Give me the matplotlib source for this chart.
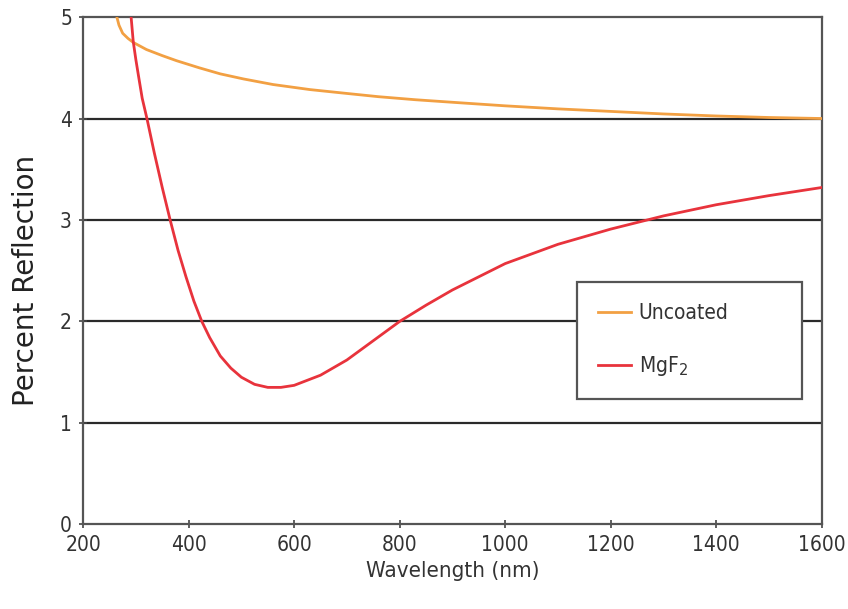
import matplotlib
matplotlib.use("Agg")
from matplotlib import pyplot as plt
from matplotlib import font_manager as fm

# values
uncoated_nm = [264, 268, 275, 285, 295, 320, 350, 377, 420, 460, 504, 560,
               630, 700, 760, 830, 900, 1000, 1100, 1200, 1300, 1400, 1500,
               1600]
uncoated_pct = [5.0, 4.92, 4.84, 4.79, 4.75, 4.68, 4.62, 4.57, 4.5, 4.44,
                4.39, 4.335, 4.285, 4.247, 4.215, 4.185, 4.16, 4.125, 4.095,
                4.07, 4.045, 4.025, 4.01, 4.0]

mgf2_nm = [291, 293, 295, 300, 305, 312, 321, 335, 350, 365, 380, 395, 410,
           425, 440, 460, 480, 500, 525, 550, 575, 600, 650, 700, 750, 800,
           850, 900, 1000, 1100, 1200, 1300, 1400, 1500, 1600]
mgf2_pct = [5.0, 4.88, 4.76, 4.58, 4.42, 4.2, 4.0, 3.66, 3.32, 3.0, 2.7,
            2.44, 2.2, 2.0, 1.84, 1.66, 1.54, 1.45, 1.38, 1.35, 1.35, 1.37,
            1.47, 1.62, 1.81, 2.0, 2.16, 2.31, 2.57, 2.76, 2.91, 3.04, 3.15,
            3.24, 3.32]

x_ticks = [200, 400, 600, 800, 1000, 1200, 1400, 1600]
y_ticks = [0, 1, 2, 3, 4, 5]

# narrow font for ticks, x label and legend
cond = fm.FontProperties(family="DejaVu Sans", stretch="condensed", size=15)
cond_lab = fm.FontProperties(family="DejaVu Sans", stretch="condensed", size=16)
cond_leg = fm.FontProperties(family="DejaVu Sans", stretch="condensed", size=15)

fig = plt.figure(figsize=(8.48, 6.09), dpi=100)
ax = fig.add_axes([0.098, 0.139, 0.871, 0.833])

# horizontal grid lines
for v in y_ticks[1:-1]:
    ax.axhline(v, color="#2a2a2a", linewidth=1.6, zorder=1)

ax.plot(uncoated_nm, uncoated_pct, color="#f2a043", linewidth=2.0,
        label="Uncoated", zorder=3)
ax.plot(mgf2_nm, mgf2_pct, color="#e8333c", linewidth=2.0,
        label="MgF$_2$", zorder=3)

ax.set_xlim(200, 1600)
ax.set_ylim(0, 5)
ax.set_xticks(x_ticks)
ax.set_yticks(y_ticks)
ax.set_xticklabels([str(t) for t in x_ticks], fontproperties=cond,
                   color="#333333")
ax.set_yticklabels([str(t) for t in y_ticks], fontproperties=cond,
                   color="#333333")
ax.tick_params(axis="x", direction="inout", length=6, width=1.2,
               color="#444444", pad=5)
ax.tick_params(axis="y", direction="inout", length=6, width=1.2,
               color="#444444", pad=5)

for s in ax.spines.values():
    s.set_color("#555555")
    s.set_linewidth(1.6)

ax.set_xlabel("Wavelength (nm)", fontproperties=cond_lab, color="#333333",
              labelpad=4)
ax.set_ylabel("Percent Reflection", fontsize=20, color="#222222")
ax.yaxis.set_label_coords(-0.058, 0.481)

leg = ax.legend(loc="upper left", bbox_to_anchor=(0.669, 0.245, 0.304, 0.232),
                mode="expand", borderaxespad=0, frameon=True, fancybox=False,
                prop=cond_leg, handlelength=1.6,
                labelspacing=1.5, borderpad=1.0, handletextpad=0.35,
                labelcolor="#333333")
leg.get_frame().set_edgecolor("#555555")
leg.get_frame().set_linewidth(1.6)
leg.get_frame().set_facecolor("white")
leg.get_frame().set_alpha(1)
leg.set_zorder(5)

plt.savefig("out.png", dpi=100)
